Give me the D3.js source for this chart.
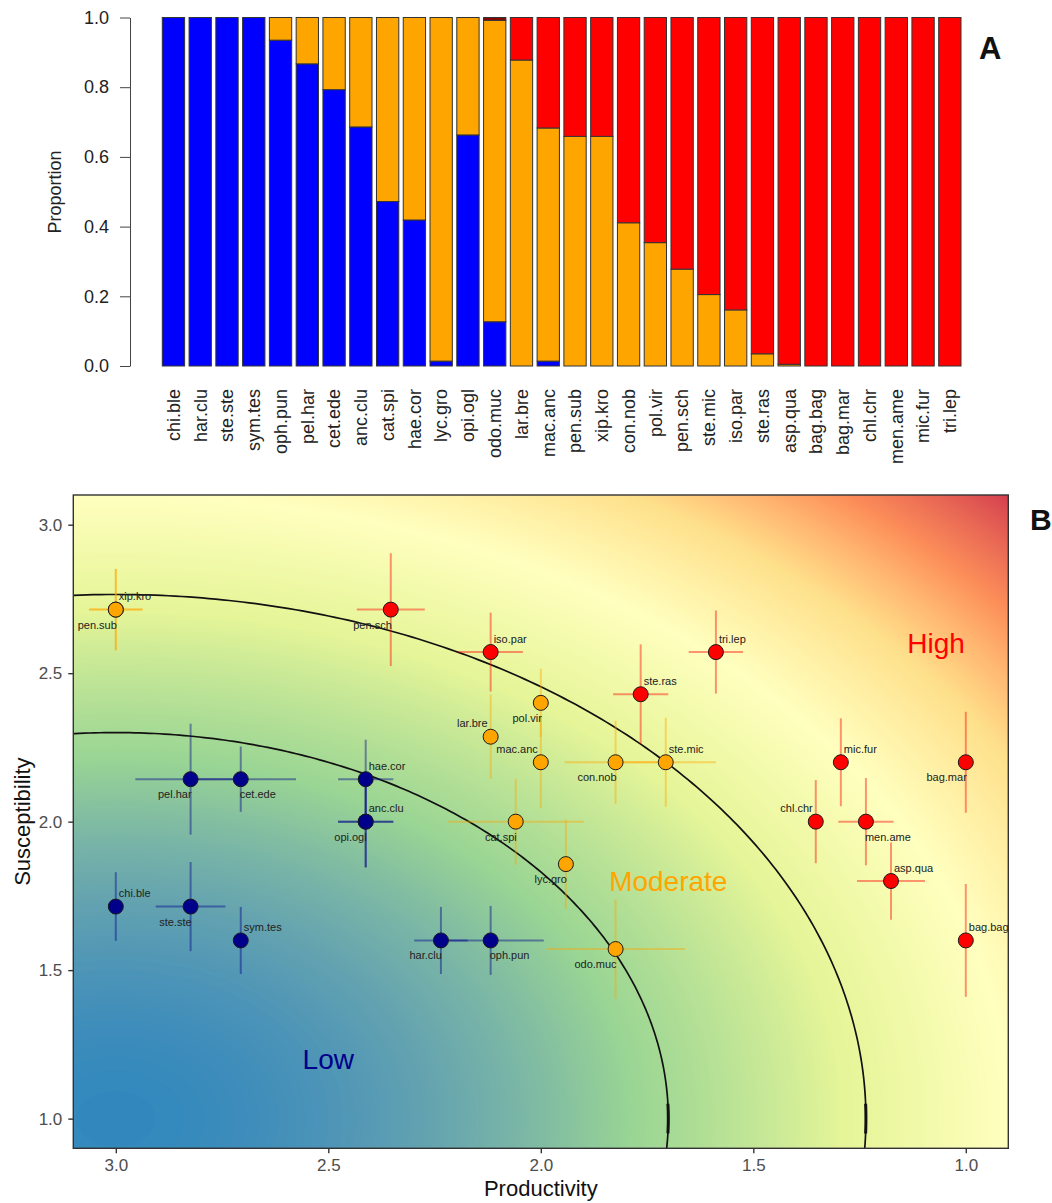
<!DOCTYPE html>
<html>
<head>
<meta charset="utf-8">
<script src="https://cdn.jsdelivr.net/npm/d3@7"></script>
<style>
  body { margin: 0; background: #fff; }
  svg { display: block; font-family: "Liberation Sans", Arial, sans-serif; }
</style>
</head>
<body>
<div id="chart"></div>
<script>
// ---- panel A : proportions per species ----
const species = ["chi.ble","har.clu","ste.ste","sym.tes","oph.pun","pel.har","cet.ede","anc.clu","cat.spi","hae.cor",
  "lyc.gro","opi.ogl","odo.muc","lar.bre","mac.anc","pen.sub","xip.kro","con.nob","pol.vir","pen.sch",
  "ste.mic","iso.par","ste.ras","asp.qua","bag.bag","bag.mar","chl.chr","men.ame","mic.fur","tri.lep"];
const propLow = [1,1,1,1,0.935,0.867,0.793,0.686,0.472,0.419,
  0.014,0.663,0.127,0,0.014,0,0,0,0,0,
  0,0,0,0,0,0,0,0,0,0];
const propModerate = [0,0,0,0,0.065,0.133,0.207,0.314,0.528,0.581,
  0.986,0.337,0.865,0.878,0.669,0.659,0.659,0.411,0.354,0.278,
  0.205,0.161,0.035,0.005,0,0,0,0,0,0];
const propHigh = [0,0,0,0,0,0,0,0,0,0,
  0,0,0,0.122,0.317,0.341,0.341,0.589,0.646,0.722,
  0.795,0.839,0.965,0.995,1,1,1,1,1,1];
const propOther = [0,0,0,0,0,0,0,0,0,0,
  0,0,0.008,0,0,0,0,0,0,0,
  0,0,0,0,0,0,0,0,0,0];
const yTicksA = [0, 0.2, 0.4, 0.6, 0.8, 1.0];

// ---- panel B : productivity / susceptibility ----
const ptNames = ["chi.ble","ste.ste","sym.tes","pel.har","cet.ede","hae.cor","anc.clu","opi.ogl","har.clu","oph.pun",
  "xip.kro","pen.sub","pen.sch","iso.par","tri.lep","ste.ras","pol.vir","lar.bre","mac.anc","con.nob",
  "ste.mic","cat.spi","lyc.gro","odo.muc","mic.fur","bag.mar","chl.chr","men.ame","asp.qua","bag.bag"];
const productivity = [3.0,2.824,2.706,2.824,2.706,2.412,2.412,2.412,2.235,2.118,
  3.0,3.0,2.353,2.118,1.588,1.765,2.0,2.118,2.0,1.824,
  1.706,2.059,1.941,1.824,1.294,1.0,1.353,1.235,1.176,1.0];
const susceptibility = [1.714,1.714,1.6,2.143,2.143,2.143,2.0,2.0,1.6,1.6,
  2.714,2.714,2.714,2.571,2.571,2.429,2.4,2.286,2.2,2.2,
  2.2,2.0,1.857,1.571,2.2,2.2,2.0,2.0,1.8,1.6];
const ptClass = ["Low","Low","Low","Low","Low","Low","Low","Low","Low","Low",
  "Moderate","Moderate","High","High","High","High","Moderate","Moderate","Moderate","Moderate",
  "Moderate","Moderate","Moderate","Moderate","High","High","High","High","High","High"];
const prodErr = [0,0.082,0,0.13,0.13,0.065,0.065,0.065,0.063,0.125,
  0.063,0.063,0.08,0.076,0.064,0.065,0,0,0,0.12,
  0.118,0.16,0,0.163,0,0,0,0.065,0.08,0];
const suscErr = [0.116,0.15,0.113,0.187,0.11,0.133,0.154,0.154,0.113,0.116,
  0.137,0.137,0.19,0.133,0.14,0.168,0.115,0.142,0.155,0.14,
  0.15,0.145,0.15,0.167,0.148,0.17,0.14,0.147,0.13,0.19];
const xTicksB = [3.0, 2.5, 2.0, 1.5, 1.0];
const yTicksB = [1.0, 1.5, 2.0, 2.5, 3.0];
const boundaryRadii = [1.3, 1.765];
const refPoint = [3, 1];   // productivity, susceptibility of the origin of the vulnerability score
const zoneNames = ["Low", "Moderate", "High"];

// layout
const W = 1052, H = 1203;
const classColor = {Low: "#00008B", Moderate: "#FFA500", High: "#FF0000"};
const zoneAt = {Low: [2.5, 1.2], Moderate: [1.7, 1.8], High: [1.07, 2.6]};
const labelPlace = {
  "chi.ble":"ur","ste.ste":"ll","sym.tes":"ur","pel.har":"ll","cet.ede":"lr","hae.cor":"ur","anc.clu":"ur",
  "opi.ogl":"ll","har.clu":"ll","oph.pun":"lr","xip.kro":"ur","pen.sub":"ll","pen.sch":"ll","iso.par":"ur",
  "tri.lep":"ur","ste.ras":"ur","pol.vir":"ll","lar.bre":"ul","mac.anc":"ul","con.nob":"ll","ste.mic":"ur",
  "cat.spi":"ll","lyc.gro":"ll","odo.muc":"ll","mic.fur":"ur","bag.mar":"ll","chl.chr":"ul","men.ame":"lr",
  "asp.qua":"ur","bag.bag":"ur"
};

const svg = d3.select("#chart").append("svg")
  .attr("width", W)
  .attr("height", H);

// ================= panel A =================
const xA = d3.scaleBand().domain(species).range([162.3, 961]).paddingInner(1 / 6).paddingOuter(0);
const yA = d3.scaleLinear().domain([0, 1]).range([366, 17.5]);

const rowsA = species.map((s, i) => ({
  sp: s, low: propLow[i], moderate: propModerate[i], high: propHigh[i], other: propOther[i]
}));
const stackA = d3.stack().keys(["low", "moderate", "high", "other"])(rowsA);
const fillA = {low: "#0000FF", moderate: "#FFA500", high: "#FF0000", other: "#8B0000"};

const gA = svg.append("g");
gA.selectAll("g.layer")
  .data(stackA)
  .enter().append("g")
  .attr("class", "layer")
  .attr("fill", d => fillA[d.key])
  .selectAll("rect")
  .data(d => d.filter(v => v[1] - v[0] > 0))
  .enter().append("rect")
  .attr("x", d => xA(d.data.sp))
  .attr("width", xA.bandwidth())
  .attr("y", d => yA(d[1]))
  .attr("height", d => yA(d[0]) - yA(d[1]))
  .attr("stroke", "#333")
  .attr("stroke-width", 1);

const axA = gA.append("g")
  .attr("transform", "translate(130,0)")
  .call(d3.axisLeft(yA).tickValues(yTicksA).tickFormat(d3.format(".1f")).tickSize(10).tickSizeOuter(0).tickPadding(11));
axA.select(".domain").attr("stroke", "#444");
axA.selectAll(".tick line").attr("stroke", "#444");
axA.selectAll("text").attr("font-size", 18).attr("fill", "#222").attr("font-family", "Liberation Sans, Arial, sans-serif");

gA.selectAll("text.cat")
  .data(species)
  .enter().append("text")
  .attr("class", "cat")
  .attr("transform", d => `translate(${xA(d) + xA.bandwidth() / 2},389) rotate(-90)`)
  .attr("dy", "0.35em")
  .attr("text-anchor", "end")
  .attr("font-size", 18)
  .attr("fill", "#222")
  .text(d => d);

gA.append("text")
  .attr("transform", "translate(61,192) rotate(-90)")
  .attr("text-anchor", "middle")
  .attr("font-size", 18)
  .attr("fill", "#222")
  .text("Proportion");

svg.append("text").attr("x", 979).attr("y", 59)
  .attr("font-size", 31).attr("font-weight", "bold").attr("fill", "#111").text("A");

// ================= panel B =================
const x0 = 73.3, x1 = 1008.3, y0 = 495, y1 = 1148.3;
const xB = d3.scaleLinear().domain([3.1, 0.9]).range([x0, x1]);
const yB = d3.scaleLinear().domain([0.9, 3.1]).range([y1, y0]);

// background: vulnerability score = squared distance from refPoint
const dist2 = (p, s) => (refPoint[0] - p) ** 2 + (s - refPoint[1]) ** 2;
const maxD2 = dist2(0.9, 3.1);
const spectral = ["#3288BD", "#99D594", "#E6F598", "#FFFFBF", "#FEE08B", "#FC8D59", "#D53E4F"];
const bgColor = d3.scaleLinear()
  .domain(spectral.map((c, i) => i * maxD2 / (spectral.length - 1)))
  .range(spectral)
  .interpolate(d3.interpolateLab)
  .clamp(true);

const cw = Math.round(x1 - x0), ch = Math.round(y1 - y0);
const canvas = document.createElement("canvas");
canvas.width = cw; canvas.height = ch;
const ctx = canvas.getContext("2d");
const img = ctx.createImageData(cw, ch);
const lut = d3.range(512).map(k => d3.rgb(bgColor(k / 511 * maxD2)));
for (let j = 0; j < ch; j++) {
  const s = yB.invert(y0 + j + 0.5);
  for (let i = 0; i < cw; i++) {
    const p = xB.invert(x0 + i + 0.5);
    const c = lut[Math.min(511, Math.round(dist2(p, s) / maxD2 * 511))];
    const o = (j * cw + i) * 4;
    img.data[o] = c.r; img.data[o + 1] = c.g; img.data[o + 2] = c.b; img.data[o + 3] = 255;
  }
}
ctx.putImageData(img, 0, 0);

const gB = svg.append("g");
gB.append("image")
  .attr("href", canvas.toDataURL())
  .attr("x", x0).attr("y", y0)
  .attr("width", x1 - x0).attr("height", y1 - y0)
  .attr("preserveAspectRatio", "none");

svg.append("clipPath").attr("id", "clipB")
  .append("rect").attr("x", x0).attr("y", y0).attr("width", x1 - x0).attr("height", y1 - y0);

// boundary arcs
const arcLine = d3.line().x(d => xB(d[0])).y(d => yB(d[1]));
const arcPts = (r, a0, a1) => d3.range(0, 201).map(k => {
  const t = a0 + (a1 - a0) * k / 200;
  return [refPoint[0] - r * Math.cos(t), refPoint[1] + r * Math.sin(t)];
});
const gArc = gB.append("g").attr("clip-path", "url(#clipB)");
boundaryRadii.forEach(r => {
  gArc.append("path")
    .attr("d", arcLine(arcPts(r, -0.12, Math.PI / 2 + 0.12)))
    .attr("fill", "none").attr("stroke", "#111").attr("stroke-width", 1.7);
  gArc.append("path")
    .attr("d", arcLine(arcPts(r, Math.asin(-0.05 / r), Math.asin(0.05 / r))))
    .attr("fill", "none").attr("stroke", "#111").attr("stroke-width", 3);
});

// zone labels
zoneNames.forEach(z => {
  gB.append("text")
    .attr("x", xB(zoneAt[z][0])).attr("y", yB(zoneAt[z][1]))
    .attr("dy", "0.35em")
    .attr("text-anchor", "middle")
    .attr("font-size", 28)
    .attr("fill", classColor[z])
    .text(z);
});

const pts = ptNames.map((n, i) => ({
  name: n, p: productivity[i], s: susceptibility[i], cls: ptClass[i], ep: prodErr[i], es: suscErr[i]
}));

// error bars
const gErr = gB.append("g").attr("stroke-width", 2).attr("stroke-opacity", 0.42);
gErr.selectAll("line.h")
  .data(pts.filter(d => d.ep > 0))
  .enter().append("line")
  .attr("x1", d => xB(d.p - d.ep)).attr("x2", d => xB(d.p + d.ep))
  .attr("y1", d => yB(d.s)).attr("y2", d => yB(d.s))
  .attr("stroke", d => classColor[d.cls]);
gErr.selectAll("line.v")
  .data(pts.filter(d => d.es > 0))
  .enter().append("line")
  .attr("x1", d => xB(d.p)).attr("x2", d => xB(d.p))
  .attr("y1", d => yB(d.s - d.es)).attr("y2", d => yB(d.s + d.es))
  .attr("stroke", d => classColor[d.cls]);

// points
gB.selectAll("circle.pt")
  .data(pts)
  .enter().append("circle")
  .attr("cx", d => xB(d.p))
  .attr("cy", d => yB(d.s))
  .attr("r", 7.5)
  .attr("fill", d => classColor[d.cls])
  .attr("stroke", "#1a1a1a")
  .attr("stroke-width", 1);

// point labels
const placeOff = {
  ur: {dx: 3, dy: -9.5, anchor: "start"},
  ul: {dx: -3, dy: -9.5, anchor: "end"},
  ll: {dx: 1, dy: 19, anchor: "end"},
  lr: {dx: -1, dy: 19, anchor: "start"}
};
gB.selectAll("text.lab")
  .data(pts)
  .enter().append("text")
  .attr("x", d => xB(d.p) + placeOff[labelPlace[d.name]].dx)
  .attr("y", d => yB(d.s) + placeOff[labelPlace[d.name]].dy)
  .attr("text-anchor", d => placeOff[labelPlace[d.name]].anchor)
  .attr("font-size", 11)
  .attr("fill", "#222")
  .text(d => d.name);

// border
gB.append("rect")
  .attr("x", x0).attr("y", y0).attr("width", x1 - x0).attr("height", y1 - y0)
  .attr("fill", "none").attr("stroke", "#333").attr("stroke-width", 1.4);

// axes
const axBx = gB.append("g").attr("transform", `translate(0,${y1})`)
  .call(d3.axisBottom(xB).tickValues(xTicksB).tickFormat(d3.format(".1f")).tickSize(5).tickPadding(6));
const axBy = gB.append("g").attr("transform", `translate(${x0},0)`)
  .call(d3.axisLeft(yB).tickValues(yTicksB).tickFormat(d3.format(".1f")).tickSize(5).tickPadding(6));
[axBx, axBy].forEach(ax => {
  ax.select(".domain").remove();
  ax.selectAll(".tick line").attr("stroke", "#333").attr("stroke-width", 1.4);
  ax.selectAll("text").attr("font-size", 17).attr("fill", "#4D4D4D").attr("font-family", "Liberation Sans, Arial, sans-serif");
});

gB.append("text")
  .attr("x", (x0 + x1) / 2).attr("y", 1196)
  .attr("text-anchor", "middle")
  .attr("font-size", 22)
  .attr("fill", "#111")
  .text("Productivity");
gB.append("text")
  .attr("transform", `translate(30,${(y0 + y1) / 2}) rotate(-90)`)
  .attr("text-anchor", "middle")
  .attr("font-size", 22)
  .attr("fill", "#111")
  .text("Susceptibility");

svg.append("text").attr("x", 1030).attr("y", 530)
  .attr("font-size", 30).attr("font-weight", "bold").attr("fill", "#111").text("B");
</script>
</body>
</html>
